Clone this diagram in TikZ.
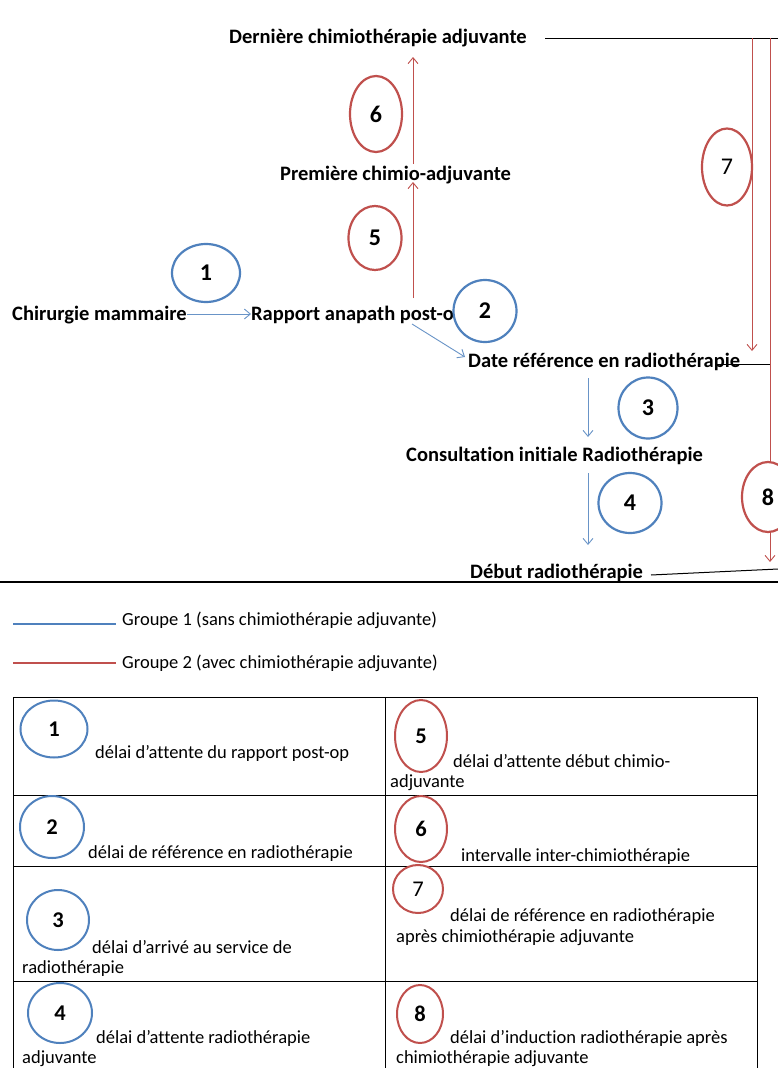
\documentclass[tikz,border=0pt]{standalone}
\usepackage{fontspec}
\setmainfont{Carlito}[Ligatures={NoCommon}]
\usetikzlibrary{arrows.meta,calc,shapes.geometric}
\definecolor{cblue}{HTML}{4F81BD}
\definecolor{cred}{HTML}{C0504D}
\begin{document}
\begin{tikzpicture}[x=1pt,y=-1pt,
  lbl/.style={font=\fontsize{20.5}{24}\selectfont\bfseries, inner sep=0pt, anchor=base west},
  txt/.style={font=\fontsize{18.5}{22}\selectfont, inner sep=0pt, anchor=base west},
  ov/.style={ellipse, draw, line width=2.2pt, fill=white, inner sep=0pt, font=\fontsize{24}{28}\selectfont\bfseries},
  bov/.style={ov, draw=cblue},
  rov/.style={ov, draw=cred},
  tov/.style={line width=2pt, font=\fontsize{22.5}{26}\selectfont\bfseries},
  arr/.style={-{Straight Barb[length=6pt,width=10pt]}, line width=0.9pt},
  barr/.style={arr, draw=cblue!85},
  rarr/.style={arr, draw=cred},
  blk/.style={line width=1pt, draw=black}
]
\useasboundingbox (0,0) rectangle (778,1068);
\clip (0,0) rectangle (778,1068);
\fill[white] (0,0) rectangle (778,1068);

% ---------- labels ----------
\node[lbl] (derniere) at (229,43) {Dernière chimiothérapie adjuvante};
\node[lbl] (premiere) at (280,180) {Première chimio-adjuvante};
\node[lbl] (chir) at (12,320) {Chirurgie mammaire};
\node[lbl] (rapport) at (251,320) {Rapport anapath post-op};
\node[lbl] (date) at (468,367) {Date référence en radiothérapie};
\node[lbl] (consult) at (406,461) {Consultation initiale Radiothérapie};
\node[lbl] (debut) at (470,578) {Début radiothérapie};

% ---------- coordinates ----------
\coordinate (dR) at (545,38);
\coordinate (dE) at (778,38);
\coordinate (r7top) at (752,38);
\coordinate (r7end) at (752,351);
\coordinate (r8top) at (770,38);
\coordinate (r8end) at (770,562);
\coordinate (dateR) at (717,364);
\coordinate (dateE) at (770,364);
\coordinate (debR) at (651,575);
\coordinate (debE) at (778,569);
\coordinate (r5s) at (413,298);
\coordinate (r5e) at (413,182);
\coordinate (r6s) at (413,164);
\coordinate (r6e) at (413,57);
\coordinate (b2s) at (412,324);
\coordinate (b2e) at (465,357);
\coordinate (b3s) at (588,378);
\coordinate (b3e) at (588,437);
\coordinate (b4s) at (588,473);
\coordinate (b4e) at (588,545);

% ---------- black lines ----------
\draw[blk] (dR) -- (dE);
\draw[blk] (dateR) -- (dateE);
\draw[blk] (debR) -- (debE);
\draw[line width=1.8pt] (0,582) -- (778,582);

% ---------- red connectors ----------
\draw[rarr] (r7top) -- (r7end);
\draw[rarr] (r8top) -- (r8end);
\draw[rarr] (r5s) -- (r5e);
\draw[rarr] (r6s) -- (r6e);

% ---------- blue connectors ----------
\draw[barr] (chir.east |- 0,314) -- (rapport.west |- 0,314);
\draw[barr] (b2s) -- (b2e);
\draw[barr] (b3s) -- (b3e);
\draw[barr] (b4s) -- (b4e);

% ---------- ovals ----------
\node[rov, minimum width=52pt, minimum height=76pt] (o6) at (376,114) {6};
\node[rov, font=\fontsize{24}{28}\selectfont, minimum width=50pt, minimum height=77pt] (o7) at (727,167) {7};
\node[rov, minimum width=53pt, minimum height=64pt] (o5) at (375,238) {5};
\node[rov, minimum width=52pt, minimum height=70pt] (o8) at (768,497) {8};
\node[bov, minimum width=68pt, minimum height=58pt] (o1) at (206,273) {1};
\node[bov, minimum width=63pt, minimum height=62pt] (o2) at (485,311) {2};
\node[bov, minimum width=59pt, minimum height=61pt] (o3) at (648,408) {3};
\node[bov, minimum width=63pt, minimum height=60pt] (o4) at (630,503) {4};

% ---------- legend ----------
\coordinate (lg1a) at (13,624);
\coordinate (lg1b) at (116,624);
\coordinate (lg2a) at (13,663);
\coordinate (lg2b) at (116,663);
\draw[cblue, line width=2pt] (lg1a) -- (lg1b);
\draw[cred, line width=2pt] (lg2a) -- (lg2b);
\node[txt] (g1) at (122,625) {Groupe 1 (sans chimiothérapie adjuvante)};
\node[txt] (g2) at (122,668) {Groupe 2 (avec chimiothérapie adjuvante)};

% ---------- table ----------
\draw[line width=1pt] (13,1100) -- (13,697) -- (757,697) -- (757,1100);
\draw[line width=1pt] (385,697) -- (385,1100);
\draw[line width=1pt] (13,795) -- (757,795);
\draw[line width=1pt] (13,866) -- (757,866);
\draw[line width=1pt] (13,981) -- (757,981);

\node[bov, tov, minimum width=67pt, minimum height=57pt] (t1) at (54,729) {1};
\node[txt] (t1a) at (95,758) {délai d’attente du rapport post-op};
\node[rov, tov, minimum width=52pt, minimum height=72pt] (t5) at (421,736) {5};
\node[txt] (t5a) at (453,767) {délai d’attente début chimio-};
\node[txt] (t5b) at (390,787) {adjuvante};

\node[bov, tov, minimum width=64pt, minimum height=62pt] (t2) at (52,827) {2};
\node[txt] (t2a) at (88,858) {délai de référence en radiothérapie};
\node[rov, tov, minimum width=52pt, minimum height=66pt] (t6) at (421,829) {6};
\node[txt] (t6a) at (461,861) {intervalle inter-chimiothérapie};

\node[bov, tov, minimum width=62pt, minimum height=60pt] (t3) at (58,920) {3};
\node[txt] (t3a) at (92,953) {délai d’arrivé au service de};
\node[txt] (t3b) at (22,973) {radiothérapie};
\node[rov, tov, font=\fontsize{22.5}{26}\selectfont, minimum width=50pt, minimum height=48pt] (t7) at (418,889) {7};
\node[txt] (t7a) at (450,921) {délai de référence en radiothérapie};
\node[txt] (t7b) at (396,942) {après chimiothérapie adjuvante};

\node[bov, tov, minimum width=64pt, minimum height=60pt] (t4) at (60,1013) {4};
\node[txt] (t4a) at (96,1043) {délai d’attente radiothérapie};
\node[txt] (t4b) at (22,1063) {adjuvante};
\node[rov, tov, minimum width=46pt, minimum height=58pt] (t8) at (420,1014) {8};
\node[txt] (t8a) at (450,1043) {délai d’induction radiothérapie après};
\node[txt] (t8b) at (396,1063) {chimiothérapie adjuvante};
\end{tikzpicture}
\end{document}
